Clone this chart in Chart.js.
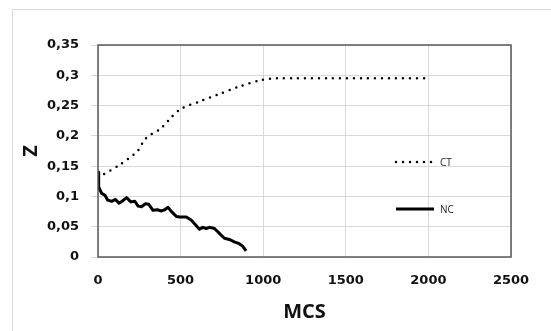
<!DOCTYPE html>
<html lang="en">
<head>
  <meta charset="UTF-8">
  <title>Z vs MCS</title>
  <script src="https://cdn.jsdelivr.net/npm/chart.js"></script>
  <style>
    html, body {
      margin: 0;
      padding: 0;
      background: #fff;
    }
    #frame {
      position: absolute;
      left: 12px;
      top: 9px;
      width: 560px;
      height: 340px;
      border: 1px solid #d9d9d9;
    }
    #wrap {
      position: absolute;
      left: 0;
      top: 0;
      width: 551px;
      height: 331px;
    }
  </style>
</head>
<body>
  <div id="frame"></div>
  <div id="wrap"><canvas id="myChart" width="551" height="331"></canvas></div>

  <script>
    // CT series (dotted)
    const ctX = [0, 25, 130, 236, 290, 384, 448, 511, 618, 724, 851, 989, 1085, 1200, 1400, 1600, 1800, 2000];
    const ctY = [0.132, 0.135, 0.152, 0.174, 0.196, 0.213, 0.232, 0.246, 0.257, 0.268, 0.281, 0.292, 0.295, 0.295, 0.295, 0.295, 0.295, 0.295];

    // NC series (solid)
    const ncX = [0, 2, 6, 22, 42, 58, 82, 106, 127, 146, 173, 199, 223, 243, 263, 287, 307, 333, 360, 384, 404, 424, 448, 474, 494, 534, 564, 594, 614, 634, 655, 675, 705, 735, 765, 795, 825, 855, 875, 896];
    const ncY = [0.140, 0.135, 0.116, 0.105, 0.102, 0.094, 0.092, 0.095, 0.089, 0.092, 0.098, 0.091, 0.092, 0.084, 0.083, 0.088, 0.087, 0.077, 0.078, 0.076, 0.078, 0.082, 0.074, 0.067, 0.066, 0.066, 0.061, 0.052, 0.046, 0.049, 0.047, 0.049, 0.047, 0.039, 0.031, 0.029, 0.025, 0.022, 0.018, 0.010];

    const xTicks = [0, 500, 1000, 1500, 2000, 2500];
    const yTicks = [0, 0.05, 0.1, 0.15, 0.2, 0.25, 0.3, 0.35];

    const toPoints = (xs, ys) => xs.map((x, i) => ({ x: x, y: ys[i] }));

    // box around plot area + legend inside the plot
    const boxAndLegend = {
      id: 'boxAndLegend',
      afterDraw(chart) {
        const { ctx, chartArea } = chart;
        ctx.save();
        ctx.strokeStyle = '#595959';
        ctx.lineWidth = 1.5;
        ctx.strokeRect(chartArea.left, chartArea.top, chartArea.right - chartArea.left, chartArea.bottom - chartArea.top);

        const lx = 396, lw = 38;
        const items = [
          { label: 'CT', y: 162, ds: chart.data.datasets[0] },
          { label: 'NC', y: 209, ds: chart.data.datasets[1] }
        ];
        ctx.font = '10px "Open Sans"';
        ctx.textBaseline = 'middle';
        ctx.fillStyle = '#262626';
        items.forEach(it => {
          ctx.beginPath();
          ctx.strokeStyle = it.ds.borderColor;
          ctx.lineWidth = it.ds.borderWidth;
          ctx.lineCap = it.ds.borderCapStyle || 'butt';
          ctx.setLineDash(it.ds.borderDash || []);
          ctx.moveTo(lx, it.y);
          ctx.lineTo(lx + lw, it.y);
          ctx.stroke();
          ctx.setLineDash([]);
          ctx.fillText(it.label, lx + lw + 6, it.y + 1);
        });
        ctx.restore();
      }
    };

    const ctx = document.getElementById('myChart').getContext('2d');
    new Chart(ctx, {
      type: 'line',
      data: {
        datasets: [{
          label: 'CT',
          data: toPoints(ctX, ctY),
          borderColor: '#000000',
          borderWidth: 2.5,
          borderDash: [0, 7],
          borderCapStyle: 'round',
          pointRadius: 0,
          tension: 0.3,
          fill: false
        }, {
          label: 'NC',
          data: toPoints(ncX, ncY),
          borderColor: '#000000',
          borderWidth: 3,
          borderJoinStyle: 'round',
          pointRadius: 0,
          tension: 0,
          fill: false
        }]
      },
      options: {
        responsive: false,
        animation: false,
        layout: {
          padding: { left: 19, right: 40, top: 45, bottom: 7 }
        },
        plugins: {
          legend: { display: false },
          tooltip: { enabled: false }
        },
        scales: {
          x: {
            type: 'linear',
            min: 0,
            max: 2500,
            afterBuildTicks: (scale) => { scale.ticks = xTicks.map(v => ({ value: v })); },
            afterFit: (scale) => { scale.height = 67; },
            border: { display: false },
            grid: { color: '#d9d9d9', lineWidth: 1, drawTicks: false },
            ticks: {
              padding: 16,
              color: '#111',
              font: { family: 'DejaVu Sans', weight: 'bold', size: 13 },
              callback: (v) => String(v)
            },
            title: {
              display: true,
              text: 'MCS',
              color: '#111',
              padding: { top: 11, bottom: 0 },
              font: { family: 'Open Sans', weight: 'bold', size: 20 }
            }
          },
          y: {
            type: 'linear',
            min: 0,
            max: 0.35,
            afterBuildTicks: (scale) => { scale.ticks = yTicks.map(v => ({ value: v })); },
            afterFit: (scale) => { scale.width = 79; },
            border: { display: false },
            grid: { color: '#d9d9d9', lineWidth: 1, tickLength: 7 },
            ticks: {
              padding: 12,
              color: '#111',
              font: { family: 'DejaVu Sans', weight: 'bold', size: 13 },
              callback: (v) => String(parseFloat(v.toFixed(2))).replace('.', ',')
            },
            title: {
              display: true,
              text: 'Z',
              color: '#111',
              padding: { top: 0, bottom: 4 },
              font: { family: 'Open Sans', weight: 'bold', size: 20 }
            }
          }
        }
      },
      plugins: [boxAndLegend]
    });
  </script>
</body>
</html>
